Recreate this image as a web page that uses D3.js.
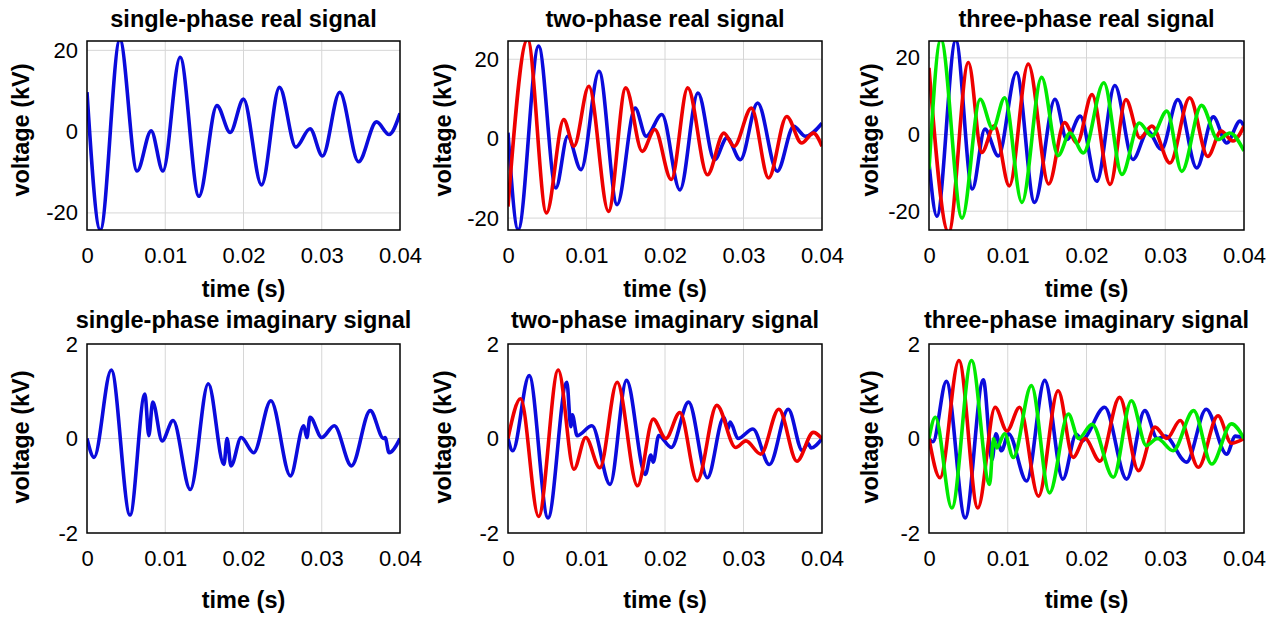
<!DOCTYPE html>
<html>
<head>
<meta charset="utf-8">
<script src="https://cdn.jsdelivr.net/npm/d3@7"></script>
<style>
  body { margin: 0; background: #fff; }
  svg text { font-family: "Liberation Sans", Arial, sans-serif; fill: #000; }
</style>
</head>
<body>
<svg id="chart" width="1275" height="622"></svg>
<script>
// titles and ticks
const titles = [
  "single-phase real signal",
  "two-phase real signal",
  "three-phase real signal",
  "single-phase imaginary signal",
  "two-phase imaginary signal",
  "three-phase imaginary signal",
];
const xTicks = [0, 0.01, 0.02, 0.03, 0.04];
const realTicks = [-20, 0, 20];
const imagTicks = [-2, 0, 2];
const yLimits = [
  [-24.2, 22.3], [-23.0, 24.6], [-24.9, 24.4],
  [-2, 2], [-2, 2], [-2, 2],
];

// [time (s), voltage (kV)] at turning points
const singleRealBlue = [
  [0, 9.7], [0.0017, -24.2], [0.0042, 22.6], [0.0064, -9.7], [0.0082, 0.2],
  [0.0097, -9.7], [0.0119, 18.3], [0.0143, -15.9], [0.0166, 6.4], [0.0183, -0.2],
  [0.02, 8.0], [0.0223, -13.1], [0.0246, 10.9], [0.0267, -3.8], [0.0285, 0.7],
  [0.0301, -6.0], [0.0323, 9.7], [0.0347, -7.4], [0.037, 2.4], [0.0386, -0.7],
  [0.04, 4.5],
];

const twoRealBlue = [
  [0, 1.5], [0.0013, -22.9], [0.0039, 23.3], [0.0061, -12.4], [0.0076, 0.6],
  [0.0093, -7.8], [0.0116, 17.0], [0.0139, -16.6], [0.0162, 7.7], [0.0176, 0.6],
  [0.0196, 6.1], [0.0219, -12.9], [0.0242, 11.5], [0.0263, -5.3], [0.0279, 0.2],
  [0.0296, -5.3], [0.0318, 9.0], [0.0343, -8.2], [0.0364, 3.1], [0.0379, 0.6],
  [0.04, 3.9],
];
const twoRealRed = [
  [0, -17.1], [0.0025, 25.0], [0.0049, -18.7], [0.0071, 4.8], [0.0084, -1.9],
  [0.0103, 13.2], [0.0128, -18.3], [0.015, 12.8], [0.0171, -3.2], [0.0187, 2.3],
  [0.0208, -10.3], [0.0229, 12.8], [0.0254, -9.1], [0.0275, 1.4], [0.0288, -1.9],
  [0.031, 7.7], [0.0332, -9.9], [0.0355, 5.6], [0.0374, -1.1], [0.0389, 1.4],
  [0.04, -1.9],
];

const threeRealBlue = [
  [0, -7.4], [0.001, -21.3], [0.0034, 24.6], [0.0055, -14.2], [0.0071, 1.4],
  [0.0088, -5.6], [0.0111, 16.2], [0.0134, -17.7], [0.016, 9.2], [0.0175, -1.3],
  [0.0192, 4.8], [0.0213, -12.2], [0.0236, 12.8], [0.0259, -6.5], [0.0278, 0.9],
  [0.0295, -3.9], [0.0316, 9.1], [0.034, -8.7], [0.0361, 4.6], [0.0378, -2.2],
  [0.0395, 3.5], [0.04, 2.2],
];
const threeRealRed = [
  [0, 17.4], [0.0025, -25.5], [0.005, 18.8], [0.0067, -4.7], [0.0083, 2.3],
  [0.0102, -13.4], [0.0126, 18.4], [0.0152, -12.9], [0.0172, 3.1], [0.0188, -2.2],
  [0.0207, 10.4], [0.023, -13.0], [0.025, 9.1], [0.0268, -0.9], [0.0283, 2.2],
  [0.0306, -7.4], [0.0331, 9.6], [0.0354, -5.7], [0.0371, 0.9], [0.0386, -1.7],
  [0.04, 2.2],
];
const threeRealGreen = [
  [0, -9.1], [0.0015, 24.8], [0.0042, -21.8], [0.0065, 9.2], [0.0081, 1.5],
  [0.0096, 9.6], [0.0118, -17.7], [0.0143, 14.9], [0.0164, -5.5], [0.0179, 0.4],
  [0.0196, -4.8], [0.0222, 13.5], [0.0245, -10.4], [0.0267, 3.0], [0.0283, -0.4],
  [0.0302, 6.1], [0.0321, -9.6], [0.0346, 7.6], [0.0367, -1.3], [0.0382, 0.4],
  [0.04, -4.3],
];

const singleImagBlue = [
  [0, 0], [0.0009, -0.4], [0.0031, 1.45], [0.0055, -1.62], [0.0074, 0.94],
  [0.0079, 0.06], [0.0084, 0.77], [0.0096, -0.05], [0.011, 0.38], [0.0132, -1.08],
  [0.0155, 1.16], [0.0175, -0.55], [0.0179, 0.0], [0.0184, -0.58], [0.0197, 0.02],
  [0.0213, -0.3], [0.0235, 0.8], [0.026, -0.79], [0.0277, 0.27], [0.0281, 0.02],
  [0.0285, 0.45], [0.03, 0.02], [0.0316, 0.27], [0.0338, -0.58], [0.0362, 0.59],
  [0.0379, 0.0], [0.0381, 0.02], [0.0386, -0.3], [0.04, 0],
];

const twoImagBlue = [
  [0, 0], [0.0006, -0.26], [0.0027, 1.33], [0.0051, -1.68], [0.0075, 1.19],
  [0.008, 0.25], [0.0082, 0.5], [0.0088, 0.06], [0.0107, 0.27], [0.013, -0.97],
  [0.0151, 1.23], [0.0175, -0.76], [0.0182, -0.35], [0.0185, -0.5], [0.0192, 0.06],
  [0.0208, -0.19], [0.023, 0.77], [0.0254, -0.83], [0.0275, 0.45], [0.028, 0.2],
  [0.0283, 0.35], [0.0293, 0.0], [0.0312, 0.2], [0.0333, -0.55], [0.0357, 0.62],
  [0.0375, -0.26], [0.0382, -0.1], [0.0386, -0.2], [0.04, 0],
];
const twoImagRed = [
  [0, 0], [0.0016, 0.84], [0.0039, -1.65], [0.0064, 1.45], [0.0084, -0.65],
  [0.0099, 0.02], [0.0117, -0.62], [0.0139, 1.19], [0.0165, -1.0], [0.0185, 0.41],
  [0.0201, 0.0], [0.0219, 0.55], [0.0241, -0.9], [0.0266, 0.7], [0.029, -0.19],
  [0.0303, -0.05], [0.0322, -0.33], [0.0345, 0.62], [0.0368, -0.48], [0.0389, 0.13],
  [0.04, 0],
];

const threeImagBlue = [
  [0, 0], [0.0005, -0.07], [0.0022, 1.21], [0.0046, -1.68], [0.0069, 1.24],
  [0.008, -0.45], [0.0085, 0.1], [0.0092, -0.26], [0.0101, 0.1], [0.0124, -0.9],
  [0.0147, 1.23], [0.017, -0.86], [0.0187, 0.09], [0.0195, -0.05], [0.02, 0.05],
  [0.0223, 0.66], [0.0251, -0.86], [0.0274, 0.59], [0.029, 0.0], [0.03, 0.05],
  [0.0327, -0.5], [0.0352, 0.62], [0.0378, -0.33], [0.0389, 0.05], [0.04, 0],
];
const threeImagRed = [
  [0, 0], [0.0014, -0.83], [0.0038, 1.65], [0.0062, -1.47], [0.0084, 0.66],
  [0.0099, 0.16], [0.0115, 0.66], [0.0139, -1.22], [0.0164, 1.01], [0.0183, -0.4],
  [0.0198, 0.0], [0.0217, -0.48], [0.0242, 0.87], [0.0266, -0.68], [0.0287, 0.24],
  [0.0302, 0.0], [0.0319, 0.38], [0.0342, -0.61], [0.0367, 0.48], [0.0384, -0.1],
  [0.04, 0],
];
const threeImagGreen = [
  [0, 0], [0.0008, 0.45], [0.0029, -1.47], [0.0054, 1.65], [0.0077, -0.97],
  [0.0082, 0.0], [0.0086, -0.2], [0.0096, 0.1], [0.0107, -0.4], [0.013, 1.12],
  [0.0153, -1.15], [0.0177, 0.52], [0.019, 0.0], [0.0207, 0.3], [0.0234, -0.82],
  [0.0257, 0.8], [0.0276, -0.15], [0.029, 0.0], [0.031, -0.26], [0.0336, 0.59],
  [0.0359, -0.54], [0.0384, 0.31], [0.04, 0],
];

const blue = "#0b0bdc";
const red = "#ee0000";
const green = "#00ea00";

const panels = [
  { lines: [[singleRealBlue, blue]], ticks: realTicks },
  { lines: [[twoRealBlue, blue], [twoRealRed, red]], ticks: realTicks },
  { lines: [[threeRealBlue, blue], [threeRealRed, red], [threeRealGreen, green]], ticks: realTicks },
  { lines: [[singleImagBlue, blue]], ticks: imagTicks },
  { lines: [[twoImagBlue, blue], [twoImagRed, red]], ticks: imagTicks },
  { lines: [[threeImagBlue, blue], [threeImagRed, red], [threeImagGreen, green]], ticks: imagTicks },
];

// layout
const cols = [[87, 400], [508, 822], [929, 1244]];
const rows = [[41, 230], [344, 533]];
const titleY = [27, 328];
const xLabelY = [297, 608];
const yLabelX = [29, 451, 878];
const yLabelMid = [130, 437];

const svg = d3.select("#chart");

panels.forEach((p, i) => {
  const row = Math.floor(i / 3);
  const col = i % 3;
  const [left, right] = cols[col];
  const [top, bottom] = rows[row];

  const x = d3.scaleLinear().domain([0, 0.04]).range([left, right]);
  const y = d3.scaleLinear().domain(yLimits[i]).range([bottom, top]);

  const g = svg.append("g");

  g.append("clipPath")
    .attr("id", "clip" + i)
    .append("rect")
    .attr("x", left)
    .attr("y", top)
    .attr("width", right - left)
    .attr("height", bottom - top);

  // grid
  g.append("g")
    .selectAll("line")
    .data(xTicks.filter((t) => x(t) > left + 1 && x(t) < right - 1))
    .join("line")
    .attr("x1", (d) => x(d))
    .attr("x2", (d) => x(d))
    .attr("y1", top)
    .attr("y2", bottom)
    .style("stroke", "#d6d6d6")
    .style("stroke-width", 1);
  g.append("g")
    .selectAll("line")
    .data(p.ticks.filter((t) => y(t) > top + 1 && y(t) < bottom - 1))
    .join("line")
    .attr("x1", left)
    .attr("x2", right)
    .attr("y1", (d) => y(d))
    .attr("y2", (d) => y(d))
    .style("stroke", "#d6d6d6")
    .style("stroke-width", 1);

  // axes
  g.append("g")
    .attr("transform", `translate(0,${bottom})`)
    .call(
      d3.axisBottom(x)
        .tickValues(xTicks)
        .tickFormat((d) => String(d))
        .tickSize(0)
        .tickPadding(17)
    )
    .call((a) => a.select(".domain").remove())
    .selectAll("text")
    .style("font-size", "22px");

  g.append("g")
    .attr("transform", `translate(${left},0)`)
    .call(
      d3.axisLeft(y)
        .tickValues(p.ticks)
        .tickFormat((d) => String(d))
        .tickSize(0)
        .tickPadding(9)
    )
    .call((a) => a.select(".domain").remove())
    .selectAll("text")
    .style("font-size", "22px");

  // signals
  const line = d3
    .line()
    .x((d) => x(d[0]))
    .y((d) => y(d[1]))
    .curve(d3.curveMonotoneX);

  g.append("g")
    .attr("clip-path", `url(#clip${i})`)
    .selectAll("path")
    .data(p.lines)
    .join("path")
    .attr("d", (d) => line(d[0]))
    .style("fill", "none")
    .style("stroke", (d) => d[1])
    .style("stroke-width", 3.6)
    .style("stroke-linejoin", "round");

  // box
  g.append("rect")
    .attr("x", left)
    .attr("y", top)
    .attr("width", right - left)
    .attr("height", bottom - top)
    .style("fill", "none")
    .style("stroke", "#000")
    .style("stroke-width", 1.5);

  // labels
  g.append("text")
    .attr("x", (left + right) / 2)
    .attr("y", titleY[row])
    .attr("text-anchor", "middle")
    .style("font-size", "23.5px")
    .style("font-weight", "bold")
    .text(titles[i]);

  g.append("text")
    .attr("x", (left + right) / 2)
    .attr("y", xLabelY[row])
    .attr("text-anchor", "middle")
    .style("font-size", "23.5px")
    .style("font-weight", "bold")
    .text("time (s)");

  g.append("text")
    .attr("transform", `translate(${yLabelX[col]},${yLabelMid[row]}) rotate(-90)`)
    .attr("text-anchor", "middle")
    .style("font-size", "23.5px")
    .style("font-weight", "bold")
    .text("voltage (kV)");
});
</script>
</body>
</html>
